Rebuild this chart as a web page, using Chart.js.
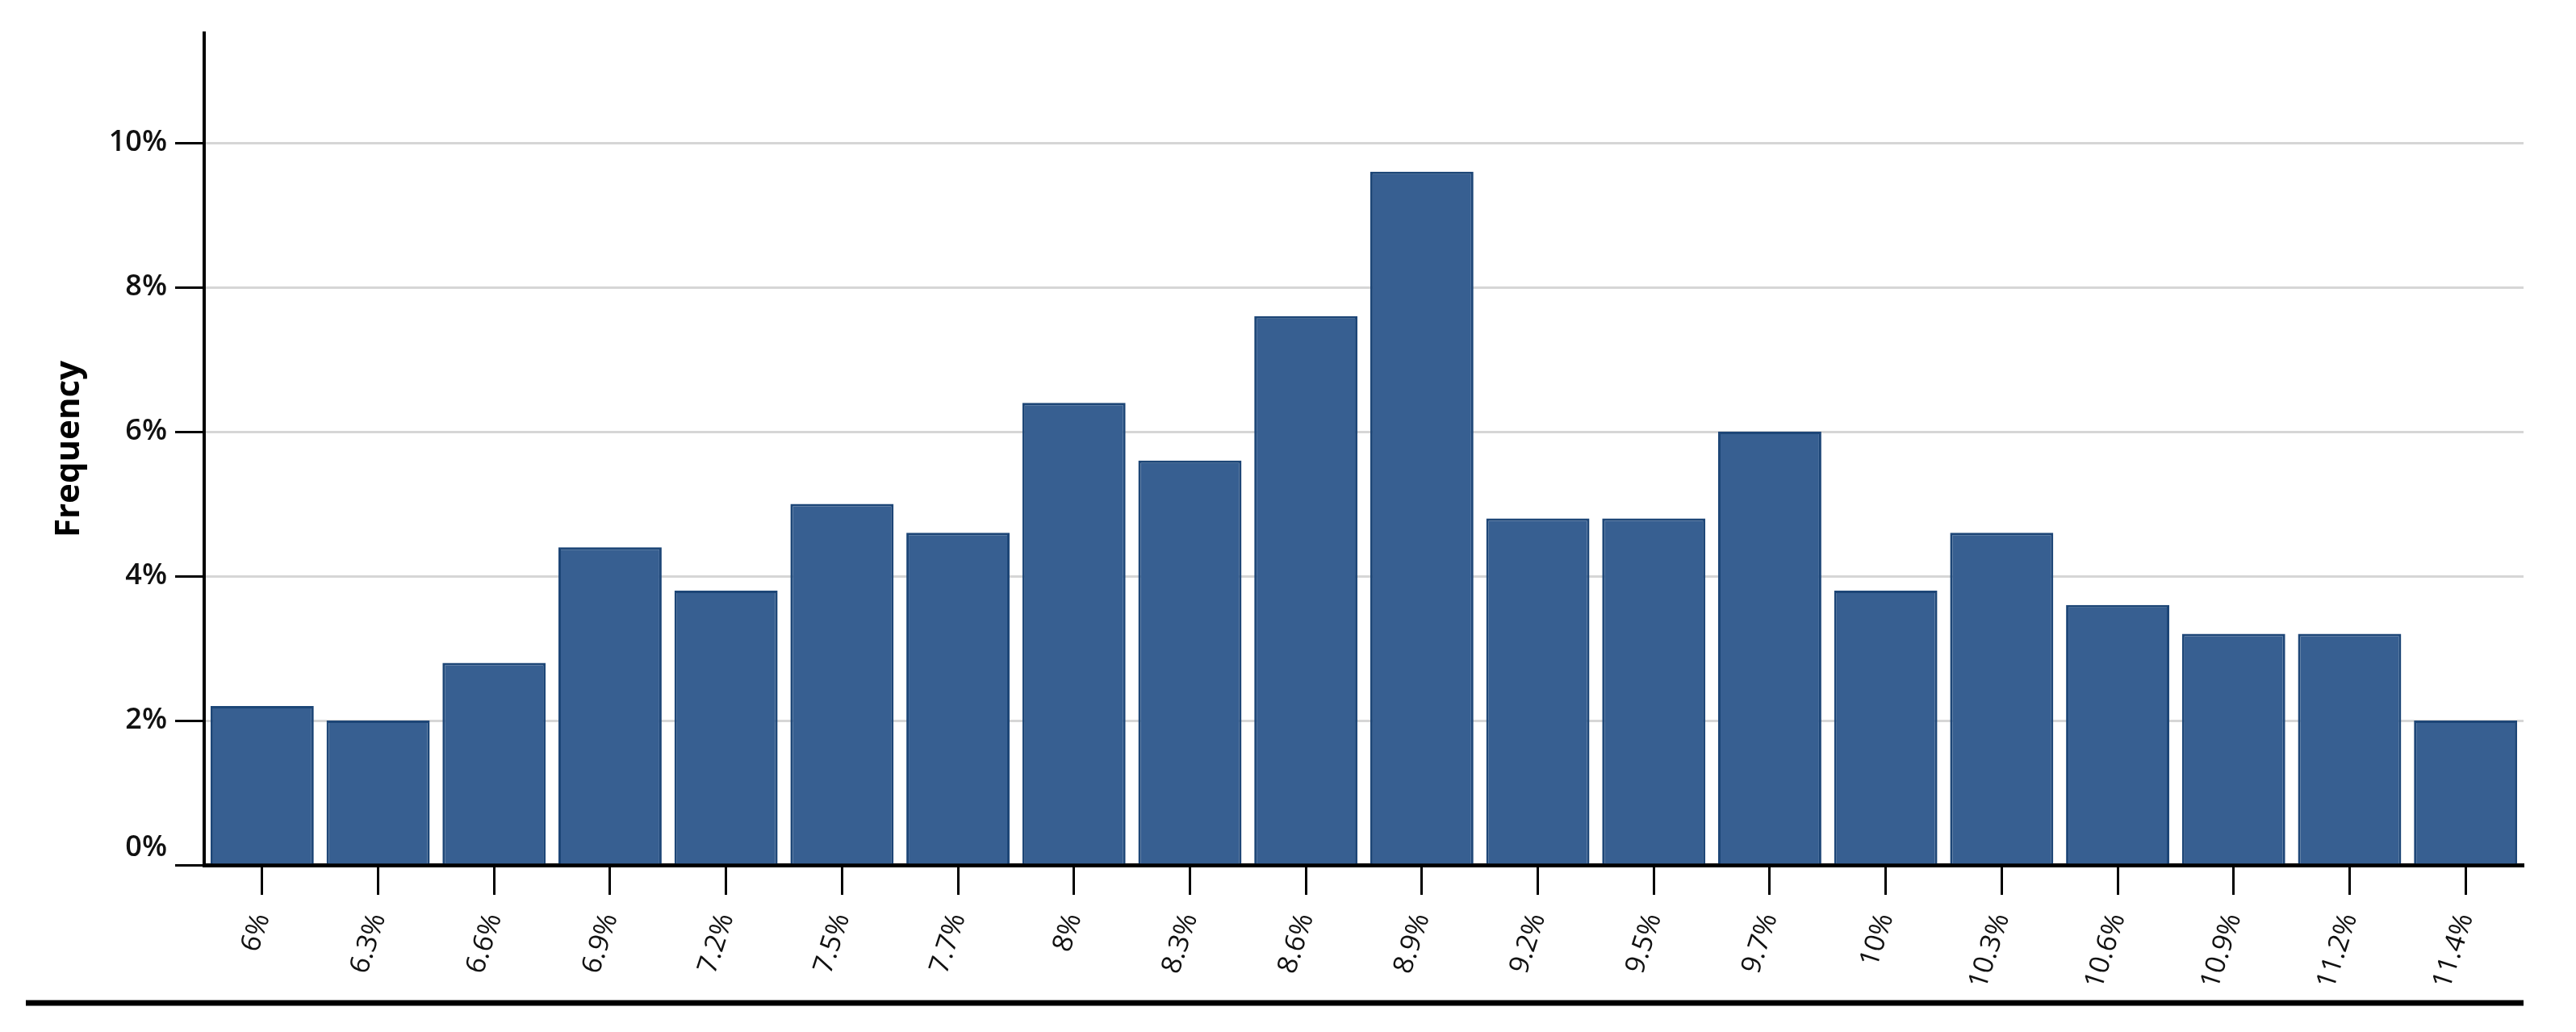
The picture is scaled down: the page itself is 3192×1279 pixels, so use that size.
<!DOCTYPE html>
<html>
<head>
<meta charset="utf-8">
<script src="https://cdn.jsdelivr.net/npm/chart.js@4.4.1/dist/chart.umd.min.js"></script>
<style>
  html, body { margin: 0; padding: 0; background: #fff; }
  #freqChart { display: block; }
</style>
</head>
<body>
<canvas id="freqChart" width="3192" height="1279"></canvas>
<script>
  // histogram bins (x labels) and share of observations in each, in %
  const binLabels = ['6%', '6.3%', '6.6%', '6.9%', '7.2%', '7.5%', '7.7%', '8%', '8.3%', '8.6%',
    '8.9%', '9.2%', '9.5%', '9.7%', '10%', '10.3%', '10.6%', '10.9%', '11.2%', '11.4%'];
  const frequency = [2.2, 2.0, 2.8, 4.4, 3.8, 5.0, 4.6, 6.4, 5.6, 7.6,
    9.6, 4.8, 4.8, 6.0, 3.8, 4.6, 3.6, 3.2, 3.2, 2.0];
  const yTickStep = 2;
  const yAxisTitle = 'Frequency';

  const barFill = '#375f91';
  const barEdge = '#1d4677';
  const gridGrey = '#d6d6d6';
  const fontFamily = "'Open Sans', 'Noto Sans', sans-serif";

  // thick rule under the tick labels
  const bottomRule = {
    id: 'bottomRule',
    afterDraw(chart) {
      const ctx = chart.ctx;
      ctx.save();
      ctx.strokeStyle = '#000';
      ctx.lineWidth = 7;
      ctx.beginPath();
      ctx.moveTo(32, 1243);
      ctx.lineTo(chart.chartArea.right, 1243);
      ctx.stroke();
      ctx.restore();
    },
  };

  new Chart(document.getElementById('freqChart'), {
    type: 'bar',
    data: {
      labels: binLabels,
      datasets: [{
        data: frequency,
        backgroundColor: barFill,
        borderColor: barEdge,
        borderWidth: 3,
        borderSkipped: 'start',
        barPercentage: 0.89,
        categoryPercentage: 1,
      }],
    },
    options: {
      responsive: false,
      animation: false,
      layout: { padding: { left: 0, right: 65, top: 41, bottom: 0 } },
      plugins: { legend: { display: false }, tooltip: { enabled: false } },
      scales: {
        x: {
          offset: true,
          border: { display: true, color: '#000', width: 5 },
          grid: {
            drawOnChartArea: false,
            drawTicks: true,
            tickLength: 37,
            tickColor: '#000',
            tickWidth: 3,
            offset: false,
          },
          ticks: {
            color: '#111',
            font: { family: fontFamily, size: 34 },
            minRotation: 72,
            maxRotation: 72,
            padding: 18,
            autoSkip: false,
          },
          afterFit(scale) { scale.height = 207; },
        },
        y: {
          min: 0,
          max: Math.max(...frequency) * 1.2,
          border: { display: true, color: '#000', width: 4 },
          grid: {
            color: (c) => (c.tick && c.tick.value === 0 ? 'rgba(0,0,0,0)' : gridGrey),
            lineWidth: 3,
            drawTicks: true,
            tickLength: 36,
            tickColor: '#000',
            tickWidth: 3,
          },
          ticks: {
            stepSize: yTickStep,
            includeBounds: false,
            color: '#111',
            font: { family: fontFamily, size: 36, weight: '600' },
            padding: 10,
            // the 0% label sits a little above the axis line
            callback: (v) => (v === 0 ? [v + '%', ''] : v + '%'),
          },
          title: {
            display: true,
            text: yAxisTitle,
            color: '#000',
            font: { family: fontFamily, size: 42, weight: 'bold' },
            padding: { top: 61, bottom: 0 },
          },
          afterFit(scale) { scale.width = 253; },
        },
      },
    },
    plugins: [bottomRule],
  });
</script>
</body>
</html>
